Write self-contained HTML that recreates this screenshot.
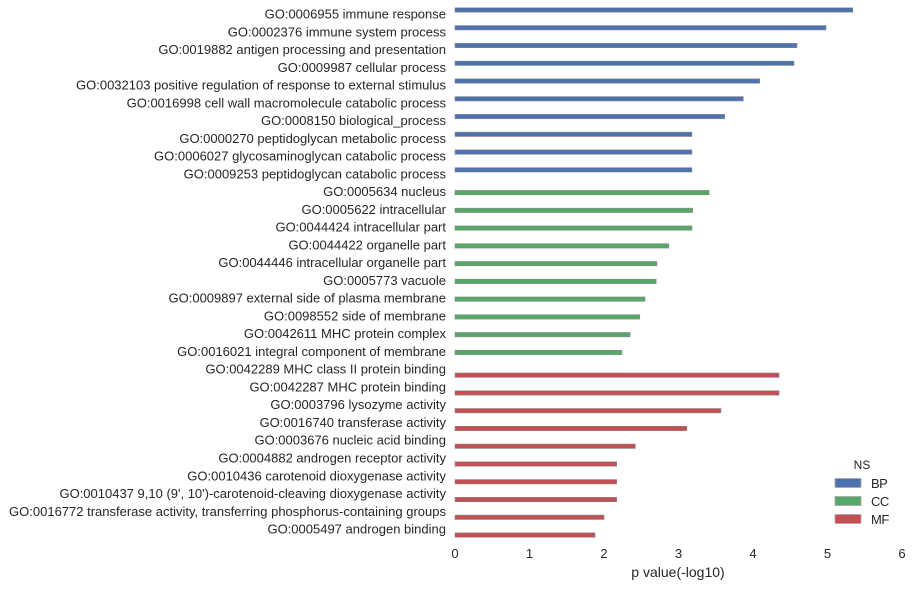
<!DOCTYPE html>
<html><head><meta charset="utf-8"><style>
body{margin:0;background:#fff;}
svg{font-family:"Liberation Sans",sans-serif;}
</style></head><body>
<svg id="chart" width="912" height="587" xmlns="http://www.w3.org/2000/svg"></svg>
<script>
const categories=["GO:0006955 immune response","GO:0002376 immune system process","GO:0019882 antigen processing and presentation","GO:0009987 cellular process","GO:0032103 positive regulation of response to external stimulus","GO:0016998 cell wall macromolecule catabolic process","GO:0008150 biological_process","GO:0000270 peptidoglycan metabolic process","GO:0006027 glycosaminoglycan catabolic process","GO:0009253 peptidoglycan catabolic process","GO:0005634 nucleus","GO:0005622 intracellular","GO:0044424 intracellular part","GO:0044422 organelle part","GO:0044446 intracellular organelle part","GO:0005773 vacuole","GO:0009897 external side of plasma membrane","GO:0098552 side of membrane","GO:0042611 MHC protein complex","GO:0016021 integral component of membrane","GO:0042289 MHC class II protein binding","GO:0042287 MHC protein binding","GO:0003796 lysozyme activity","GO:0016740 transferase activity","GO:0003676 nucleic acid binding","GO:0004882 androgen receptor activity","GO:0010436 carotenoid dioxygenase activity","GO:0010437 9,10 (9', 10')-carotenoid-cleaving dioxygenase activity","GO:0016772 transferase activity, transferring phosphorus-containing groups","GO:0005497 androgen binding"];
const namespaces=["BP","BP","BP","BP","BP","BP","BP","BP","BP","BP","CC","CC","CC","CC","CC","CC","CC","CC","CC","CC","MF","MF","MF","MF","MF","MF","MF","MF","MF","MF"];
const values=[5.34,4.98,4.59,4.55,4.09,3.87,3.62,3.18,3.18,3.18,3.41,3.19,3.18,2.87,2.71,2.70,2.55,2.48,2.35,2.24,4.35,4.35,3.57,3.11,2.42,2.17,2.17,2.17,2.0,1.88];
const xTicks=[0,1,2,3,4,5,6];
const nsList=["BP","CC","MF"];
const colors={BP:"#4c72b0",CC:"#55a868",MF:"#c44e52"};
const offs={BP:-4,CC:1,MF:6};
const svg=document.getElementById('chart');
const NS="http://www.w3.org/2000/svg";
const x=v=>455+v*74.5;
const y=i=>14+i*17.76;
function mk(t,a,txt){const e=document.createElementNS(NS,t);for(const k in a)e.setAttribute(k,a[k]);if(txt!==undefined)e.textContent=txt;svg.appendChild(e);return e;}
categories.forEach((c,i)=>{
 const t=mk('text',{x:446,y:y(i)+4.5,'text-anchor':'end','font-size':13,fill:'#262626'},c);
 
 
 const ns=namespaces[i];
 const r=mk('rect',{x:x(0),y:y(i)+offs[ns]-2.2,width:x(values[i])-x(0),height:4.4,fill:colors[ns],stroke:'#8a8a8a','stroke-width':0.6});
 
 
});
xTicks.forEach(v=>{
 const t=mk('text',{x:x(v),y:558,'text-anchor':'middle','font-size':13,fill:'#262626'},v);
 
 
});
const xt=mk('text',{x:678,y:577,'text-anchor':'middle','font-size':14,fill:'#262626'},'p value(-log10)');


const lt=mk('text',{x:862,y:469,'text-anchor':'middle','font-size':12,fill:'#262626'},'NS');


nsList.forEach((n,k)=>{
 const ly=483+k*18;
 const s=mk('rect',{x:835,y:ly-4.5,width:26,height:9,fill:colors[n],stroke:'#aaa','stroke-width':0.8});
 
 
 const t=mk('text',{x:871,y:ly+5,'font-size':13,fill:'#262626','letter-spacing':'-0.5'},n);
 
 
});
</script>
</body></html>
